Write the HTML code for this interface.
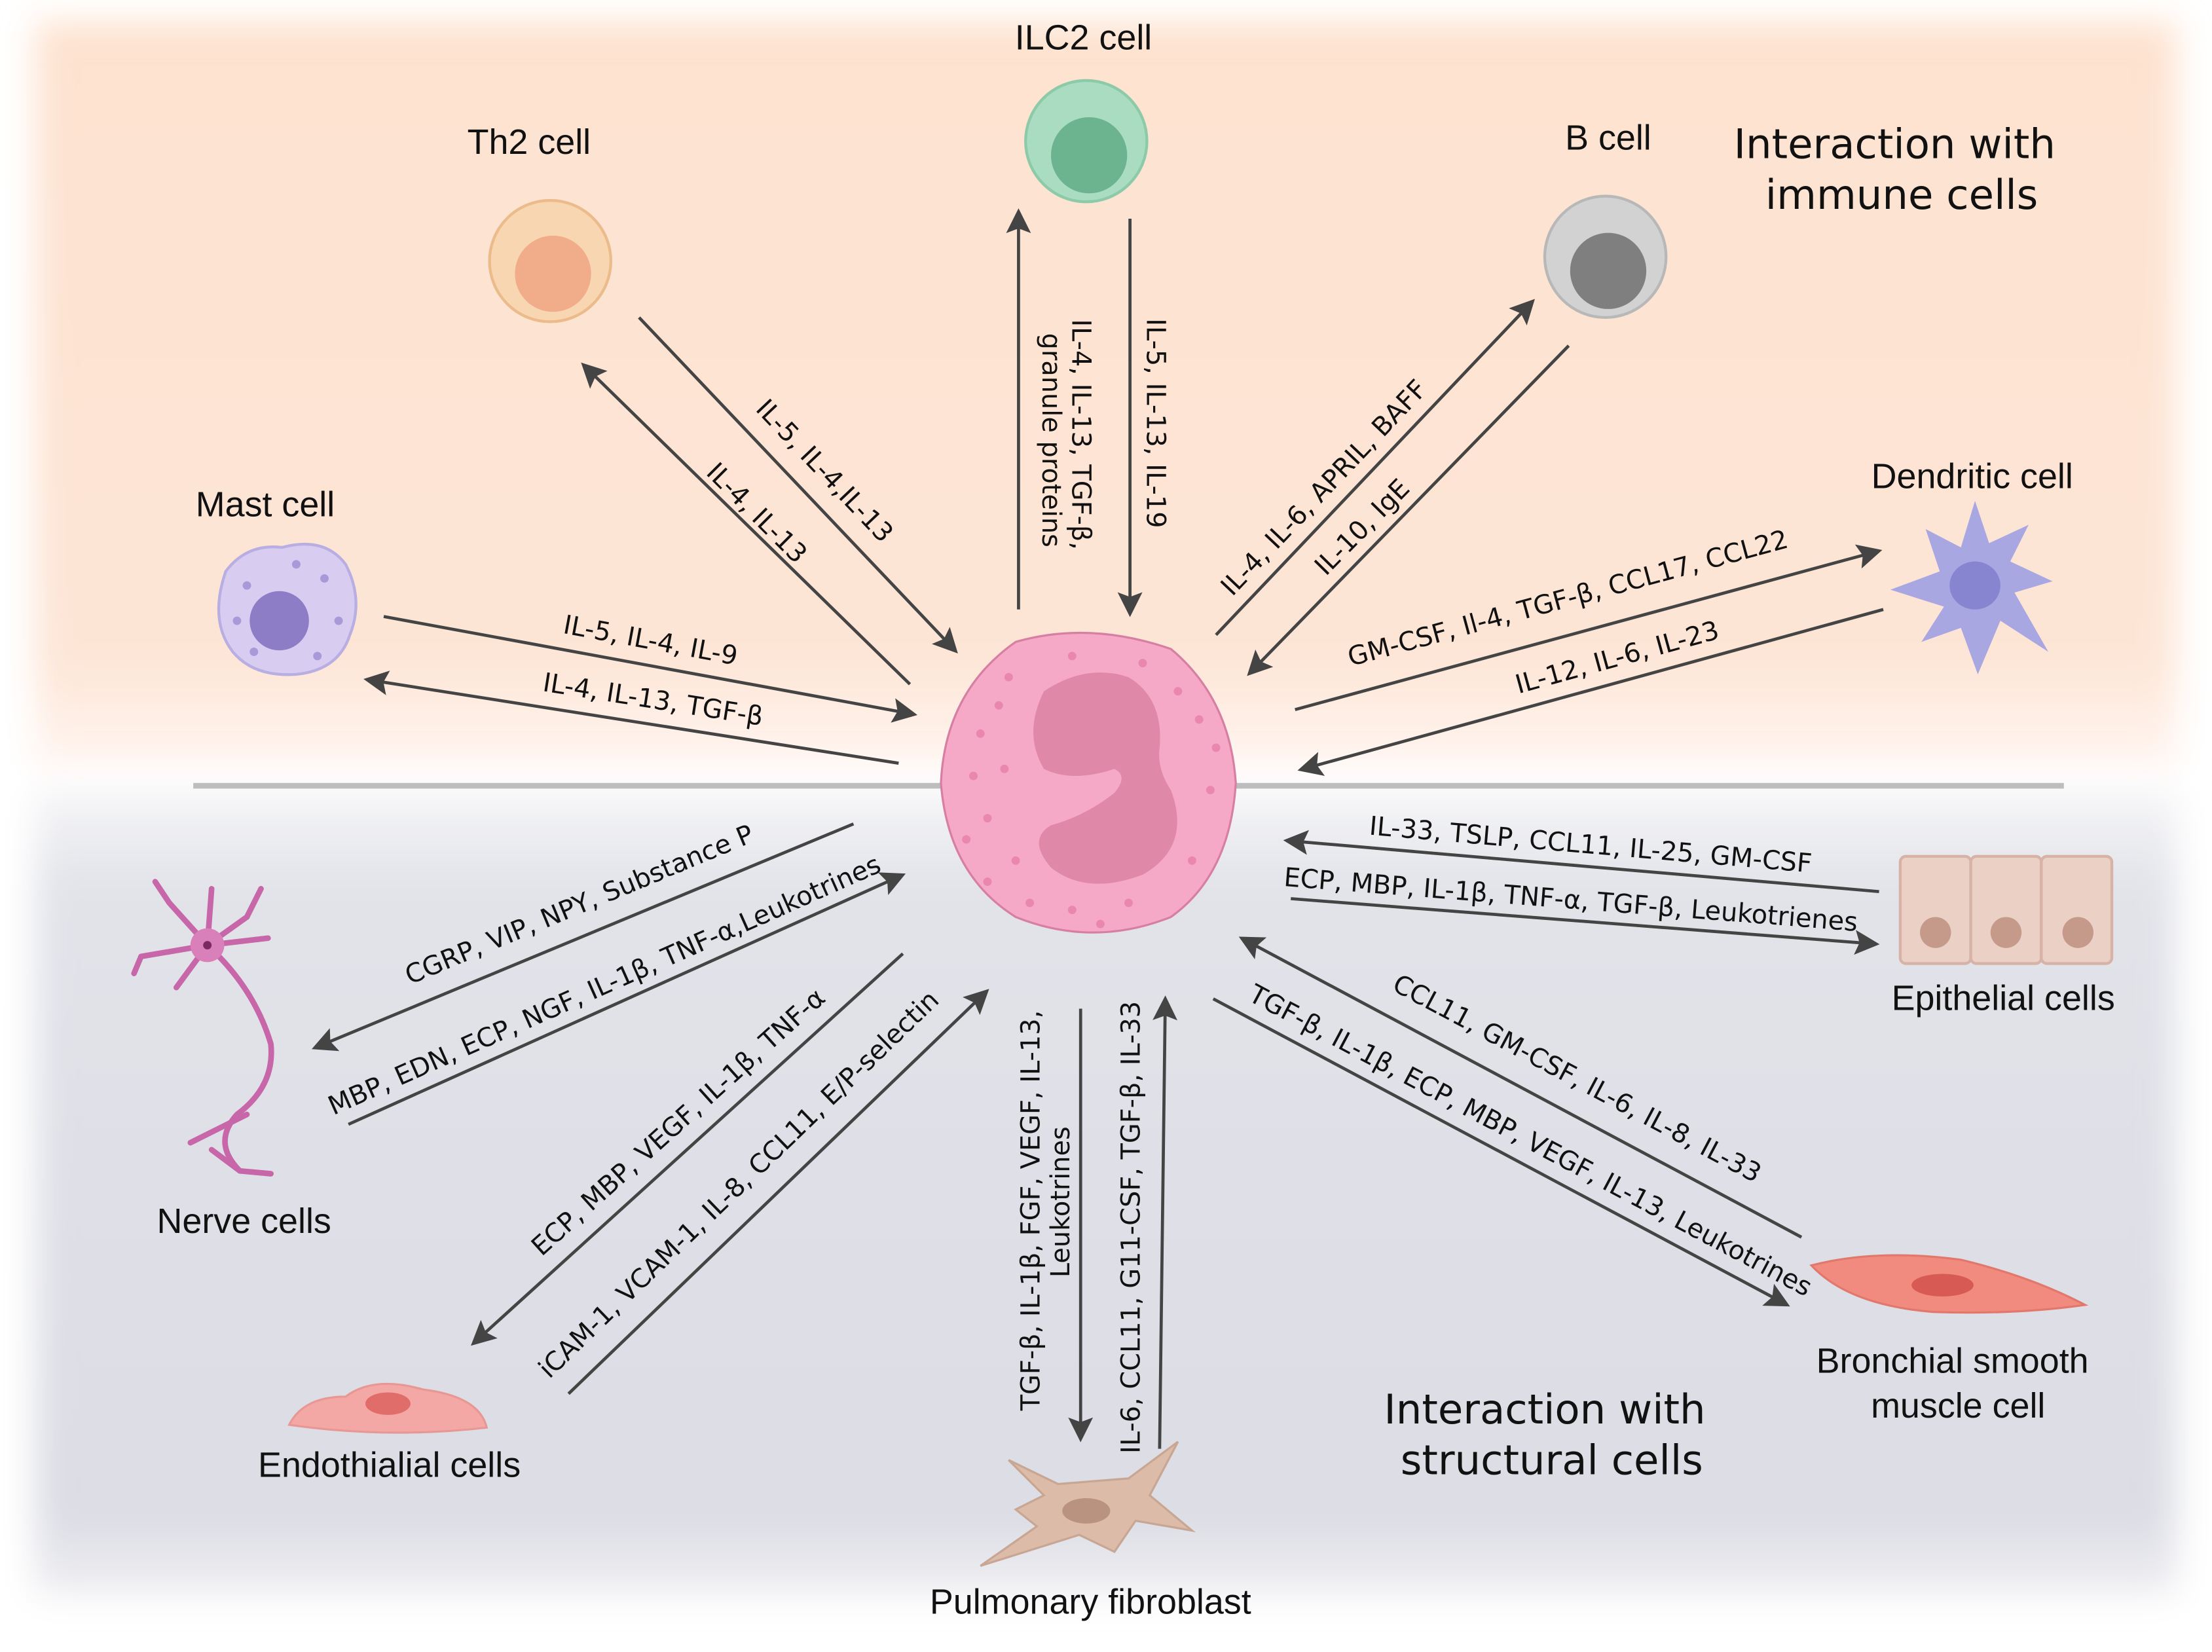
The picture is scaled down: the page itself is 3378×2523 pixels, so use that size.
<!DOCTYPE html>
<html><head><meta charset="utf-8"><style>
html,body{margin:0;padding:0;background:#fff}
svg{display:block}
text{font-family:"DejaVu Sans","Liberation Sans",sans-serif;fill:#111}
.l{font-size:18.5px}
.c{font-size:25px;font-family:"Liberation Sans",sans-serif}
.h{font-size:29px}
line{stroke:#444;stroke-width:2.2}
</style></head><body>
<svg width="3378" height="2523" viewBox="0 0 1568 1171" xmlns="http://www.w3.org/2000/svg">
<defs>
<marker id="a" markerWidth="8" markerHeight="8" refX="6" refY="4" orient="auto" markerUnits="strokeWidth">
<path d="M0,0 L8,4 L0,8 L1.5,4 Z" fill="#444"/></marker>
<linearGradient id="top" x1="0" y1="0" x2="0" y2="1">
<stop offset="0" stop-color="#fde2cf"/><stop offset="0.85" stop-color="#fde5d6"/><stop offset="1" stop-color="#fff6f1"/></linearGradient>
<linearGradient id="bot" x1="0" y1="0" x2="0" y2="1">
<stop offset="0" stop-color="#f6f6f8"/><stop offset="0.12" stop-color="#e2e3e9"/><stop offset="0.9" stop-color="#dcdde4"/><stop offset="1" stop-color="#eeeef2"/></linearGradient>
<filter id="b"><feGaussianBlur stdDeviation="12"/></filter>
</defs>
<rect x="0" y="0" width="1568" height="1171" fill="#fff"/>
<rect x="25" y="15" width="1518" height="530" fill="url(#top)" filter="url(#b)"/>
<rect x="25" y="560" width="1518" height="570" fill="url(#bot)" filter="url(#b)"/>
<line x1="137" y1="557" x2="1463" y2="557" style="stroke:#bdbdbd;stroke-width:4"/>

<!-- cells -->
<circle cx="390" cy="185" r="43" fill="#f9d6b2" stroke="#ebbb8c" stroke-width="2"/>
<circle cx="392" cy="194" r="27" fill="#f1ac8a"/>
<circle cx="770" cy="100" r="43" fill="#a9dcc1" stroke="#8ccaa8" stroke-width="2"/>
<circle cx="772" cy="110" r="27" fill="#6cb48f"/>
<circle cx="1138" cy="182" r="43" fill="#d2d2d2" stroke="#b8b8b8" stroke-width="2"/>
<circle cx="1140" cy="192" r="27" fill="#7f7f7f"/>
<path d="M160,405 Q175,385 200,388 Q230,380 245,400 Q258,425 248,450 Q240,475 210,478 Q180,480 165,462 Q148,440 160,405Z" fill="#d8cdf1" stroke="#b9aee2" stroke-width="2"/>
<circle cx="198" cy="440" r="21" fill="#8d7cc6"/>
<g fill="#a899d8"><circle cx="175" cy="415" r="3"/><circle cx="230" cy="410" r="3"/><circle cx="240" cy="440" r="3"/><circle cx="180" cy="462" r="3"/><circle cx="225" cy="465" r="3"/><circle cx="210" cy="400" r="3"/><circle cx="168" cy="440" r="3"/></g>
<path d="M1400,355 L1410,385 L1438,372 L1425,398 L1455,412 L1428,420 L1452,462 L1418,440 L1402,478 L1390,445 L1362,455 L1378,430 L1340,418 L1375,405 L1365,375 L1390,388Z" fill="#a9a7e2"/>
<ellipse cx="1400" cy="415" rx="18" ry="17" fill="#8785cf"/>
<g fill="#ead0c5" stroke="#d6b3a6" stroke-width="2">
<rect x="1347" y="607" width="50" height="76" rx="4"/><rect x="1397" y="607" width="50" height="76" rx="4"/><rect x="1447" y="607" width="50" height="76" rx="4"/></g>
<g fill="#c59a8b"><circle cx="1372" cy="661" r="11"/><circle cx="1422" cy="661" r="11"/><circle cx="1473" cy="661" r="11"/></g>
<path d="M1284,897 Q1330,885 1390,893 Q1440,905 1478,925 Q1430,932 1370,930 Q1310,925 1284,897Z" fill="#f18b80" stroke="#e2776b" stroke-width="1.5"/>
<ellipse cx="1377" cy="911" rx="22" ry="8" fill="#d85a55"/>
<path d="M205,1010 Q215,990 245,990 Q265,975 300,985 Q340,990 345,1012 Q275,1020 205,1010Z" fill="#f4a8a6" stroke="#e89894" stroke-width="1.5"/>
<ellipse cx="275" cy="995" rx="16" ry="8" fill="#e06d6a"/>
<path d="M715,1035 L750,1052 L800,1048 L835,1022 L815,1060 L845,1085 L805,1078 L790,1100 L765,1088 L695,1110 L735,1082 L720,1070 L740,1060Z" fill="#dcbca9" stroke="#c8a694" stroke-width="1.5"/>
<ellipse cx="770" cy="1071" rx="17" ry="9" fill="#b99380"/>
<g stroke="#c766a8" stroke-width="4" fill="none" stroke-linecap="round">
<path d="M147,670 Q180,700 192,740 Q195,770 168,790 Q150,810 170,830"/>
<path d="M147,670 L120,640 M147,670 L100,678 M147,670 L125,700 M147,670 L175,650 L185,630 M147,670 L150,630 M147,670 L190,665 M120,640 L110,625 M100,678 L95,690 M170,830 L150,815 M170,830 L192,832 M175,790 L135,810"/></g>
<circle cx="147" cy="670" r="12" fill="#d980bb"/><circle cx="147" cy="670" r="3" fill="#7a2a60"/>

<!-- eosinophil -->
<path d="M720,455 Q772,440 830,460 Q872,495 876,555 Q872,620 830,650 Q775,672 720,650 Q672,620 667,555 Q670,490 720,455Z" fill="#f5a9c6" stroke="#d77fa3" stroke-width="1.5"/>
<path d="M740,490 Q770,470 800,480 Q825,495 822,530 Q820,545 830,560 Q845,600 810,620 Q770,635 745,615 Q728,595 745,585 Q770,578 790,562 Q800,550 790,545 Q760,555 740,545 Q725,520 740,490Z" fill="#e088a8"/>
<g fill="#ea87ae">
<circle cx="695" cy="520" r="3"/><circle cx="700" cy="580" r="3"/><circle cx="720" cy="610" r="3"/><circle cx="690" cy="550" r="3"/><circle cx="715" cy="480" r="3"/><circle cx="760" cy="465" r="3"/><circle cx="810" cy="470" r="3"/><circle cx="850" cy="510" r="3"/><circle cx="858" cy="560" r="3"/><circle cx="845" cy="610" r="3"/><circle cx="800" cy="640" r="3"/><circle cx="760" cy="645" r="3"/><circle cx="708" cy="500" r="3"/><circle cx="712" cy="545" r="3"/><circle cx="730" cy="640" r="3"/><circle cx="835" cy="490" r="3"/><circle cx="700" cy="625" r="3"/><circle cx="685" cy="595" r="3"/><circle cx="780" cy="655" r="3"/><circle cx="862" cy="530" r="3"/></g>

<!-- arrows -->
<line x1="453" y1="225" x2="676" y2="460" marker-end="url(#a)"/>
<line x1="645" y1="485" x2="415" y2="260" marker-end="url(#a)"/>
<line x1="722" y1="432" x2="722" y2="152" marker-end="url(#a)"/>
<line x1="801" y1="155" x2="801" y2="433" marker-end="url(#a)"/>
<line x1="862" y1="450" x2="1085" y2="215" marker-end="url(#a)"/>
<line x1="1112" y1="245" x2="887" y2="476" marker-end="url(#a)"/>
<line x1="918" y1="503" x2="1330" y2="391" marker-end="url(#a)"/>
<line x1="1335" y1="432" x2="924" y2="545" marker-end="url(#a)"/>
<line x1="272" y1="437" x2="646" y2="506" marker-end="url(#a)"/>
<line x1="637" y1="541" x2="262" y2="482" marker-end="url(#a)"/>
<line x1="1332" y1="632" x2="914" y2="596" marker-end="url(#a)"/>
<line x1="915" y1="637" x2="1328" y2="669" marker-end="url(#a)"/>
<line x1="1277" y1="877" x2="882" y2="666" marker-end="url(#a)"/>
<line x1="860" y1="708" x2="1265" y2="924" marker-end="url(#a)"/>
<line x1="766" y1="715" x2="766" y2="1018" marker-end="url(#a)"/>
<line x1="822" y1="1027" x2="826" y2="710" marker-end="url(#a)"/>
<line x1="640" y1="676" x2="337" y2="951" marker-end="url(#a)"/>
<line x1="403" y1="988" x2="698" y2="704" marker-end="url(#a)"/>
<line x1="605" y1="584" x2="225" y2="742" marker-end="url(#a)"/>
<line x1="247" y1="797" x2="638" y2="621" marker-end="url(#a)"/>

<!-- arrow labels -->
<text class="l" text-anchor="middle" transform="translate(580,338) rotate(46.5)">IL-5, IL-4,IL-13</text>
<text class="l" text-anchor="middle" transform="translate(532,368) rotate(45)">IL-4, IL-13</text>
<text class="l" text-anchor="middle" transform="translate(760,308) rotate(90)">IL-4, IL-13, TGF-β,</text>
<text class="l" text-anchor="middle" transform="translate(739,312) rotate(90)">granule proteins</text>
<text class="l" text-anchor="middle" transform="translate(813,300) rotate(90)">IL-5, IL-13, IL-19</text>
<text class="l" text-anchor="middle" transform="translate(943,350) rotate(-46.5)">IL-4, IL-6, APRIL, BAFF</text>
<text class="l" text-anchor="middle" transform="translate(970,378) rotate(-45.5)">IL-10, IgE</text>
<text class="l" text-anchor="middle" transform="translate(1113,430) rotate(-15.2)">GM-CSF, Il-4, TGF-β, CCL17, CCL22</text>
<text class="l" text-anchor="middle" transform="translate(1148,472) rotate(-15.4)">IL-12, IL-6, IL-23</text>
<text class="l" text-anchor="middle" transform="translate(460,460) rotate(10.5)">IL-5, IL-4, IL-9</text>
<text class="l" text-anchor="middle" transform="translate(462,502) rotate(9)">IL-4, IL-13, TGF-β</text>
<text class="l" text-anchor="middle" transform="translate(1127,605) rotate(4.9)">IL-33, TSLP, CCL11, IL-25, GM-CSF</text>
<text class="l" text-anchor="middle" transform="translate(1113,644) rotate(4.5)">ECP, MBP, IL-1β, TNF-α, TGF-β, Leukotrienes</text>
<text class="l" text-anchor="middle" transform="translate(1115,770) rotate(28)">CCL11, GM-CSF, IL-6, IL-8, IL-33</text>
<text class="l" text-anchor="middle" transform="translate(1082,814) rotate(28)">TGF-β, IL-1β, ECP, MBP, VEGF, IL-13, Leukotrines</text>
<text class="l" text-anchor="middle" transform="translate(737,858) rotate(-90)">TGF-β, IL-1β, FGF, VEGF, IL-13,</text>
<text class="l" text-anchor="middle" transform="translate(758,852) rotate(-90)">Leukotrines</text>
<text class="l" text-anchor="middle" transform="translate(808,870) rotate(-90)">IL-6, CCL11, G11-CSF, TGF-β, IL-33</text>
<text class="l" text-anchor="middle" transform="translate(485,800) rotate(-42)">ECP, MBP, VEGF, IL-1β, TNF-α</text>
<text class="l" text-anchor="middle" transform="translate(528,844) rotate(-44)">iCAM-1, VCAM-1, IL-8, CCL11, E/P-selectin</text>
<text class="l" text-anchor="middle" transform="translate(413,647) rotate(-22.6)">CGRP, VIP, NPY, Substance P</text>
<text class="l" text-anchor="middle" transform="translate(431,704) rotate(-24)">MBP, EDN, ECP, NGF, IL-1β, TNF-α,Leukotrines</text>

<!-- cell labels -->
<g text-anchor="middle">
<text class="c" x="768" y="35">ILC2 cell</text>
<text class="c" x="375" y="109">Th2 cell</text>
<text class="c" x="1140" y="106">B cell</text>
<text class="c" x="1398" y="346">Dendritic cell</text>
<text class="c" x="188" y="366">Mast cell</text>
<text class="c" x="1420" y="716">Epithelial cells</text>
<text class="c" x="173" y="874">Nerve cells</text>
<text class="c" x="276" y="1047">Endothialial cells</text>
<text class="c" x="773" y="1144">Pulmonary fibroblast</text>
<text class="c" x="1384" y="973">Bronchial smooth</text>
<text class="c" x="1388" y="1005">muscle cell</text>
</g>
<text class="h" text-anchor="middle" x="1343" y="112">Interaction with</text>
<text class="h" text-anchor="middle" x="1348" y="148">immune cells</text>
<text class="h" text-anchor="middle" x="1095" y="1009">Interaction with</text>
<text class="h" text-anchor="middle" x="1100" y="1045">structural cells</text>
</svg>
</body></html>
